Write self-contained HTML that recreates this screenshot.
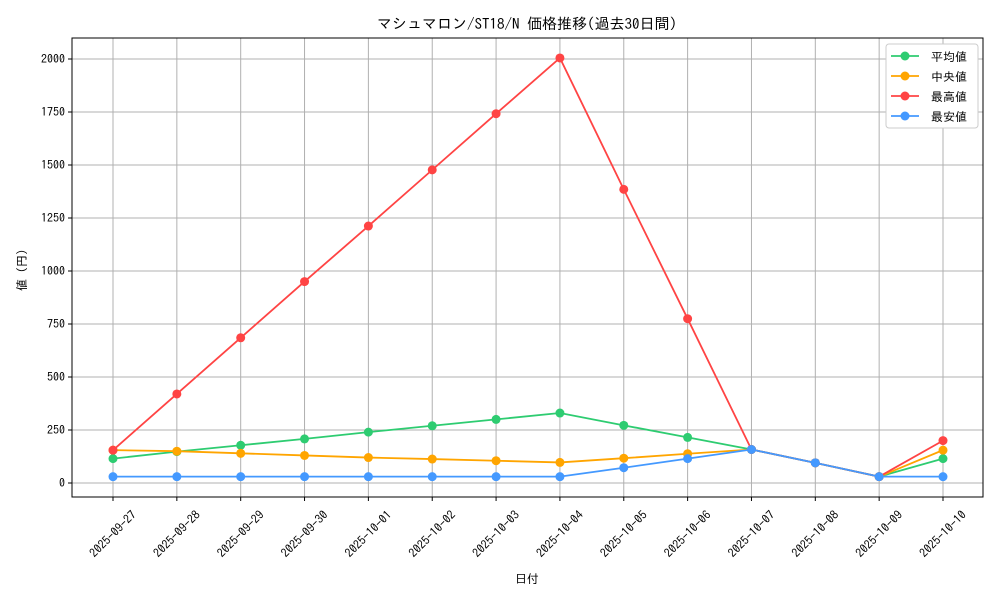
<!DOCTYPE html>
<html><head><meta charset="utf-8"><style>
body{margin:0;background:#fff;}
text{font-family:"IPAGothic","Noto Sans CJK JP",monospace;fill:#000;}
</style></head><body>
<svg id="chart" width="1000" height="600" xmlns="http://www.w3.org/2000/svg"></svg>
<script>
const categories=["2025-09-27","2025-09-28","2025-09-29","2025-09-30","2025-10-01","2025-10-02","2025-10-03","2025-10-04","2025-10-05","2025-10-06","2025-10-07","2025-10-08","2025-10-09","2025-10-10"];
const avgValues=[115,148,178,208,240,270,300,330,272,215,158,95,30,115];
const medianValues=[155,150,140,130,120,113,105,97,117,138,158,95,30,155];
const maxValues=[155,420,685,950,1212,1477,1742,2005,1385,775,158,95,30,200];
const minValues=[30,30,30,30,30,30,30,30,72,115,158,95,30,30];
const yTicks=[0,250,500,750,1000,1250,1500,1750,2000];
const seriesNames=["平均値","中央値","最高値","最安値"];
const seriesColors=["#2ecc71","#ffa500","#ff4444","#4499ff"];
const seriesData=[avgValues,medianValues,maxValues,minValues];

const svg=document.getElementById('chart');
const NS="http://www.w3.org/2000/svg";
const L=72,R=983,T=38,B=497;
const x0=113,x1=943;
function xs(i){return x0+(x1-x0)*i/(categories.length-1);}
function ys(v){return 483-(483-59)*v/2000;}
function mk(tag,attrs,parent){const e=document.createElementNS(NS,tag);for(const k in attrs)e.setAttribute(k,attrs[k]);(parent||svg).appendChild(e);return e;}

const grid=mk('g',{});


categories.forEach((c,i)=>{
  const l=mk('line',{x1:xs(i),x2:xs(i),y1:T,y2:B,stroke:'#b0b0b0','stroke-width':1},grid);
  
  
  const tk=mk('line',{x1:xs(i),x2:xs(i),y1:B,y2:B+4,stroke:'#000'});
  
  
  const cx=xs(i), cy=534;
  const t=mk('text',{x:cx,y:cy+4,'font-size':12,'text-anchor':'middle',transform:`rotate(-45 ${cx} ${cy})`});
  t.textContent=c;
  
  
});
yTicks.forEach(v=>{
  const l=mk('line',{x1:L,x2:R,y1:ys(v),y2:ys(v),stroke:'#b0b0b0','stroke-width':1},grid);
  
  
  const tk=mk('line',{x1:L-4,x2:L,y1:ys(v),y2:ys(v),stroke:'#000'});
  
  
  const t=mk('text',{x:L-7,y:ys(v)+4,'font-size':12,'text-anchor':'end'});
  t.textContent=v;
  
  
});
const frame=mk('rect',{x:L,y:T,width:R-L,height:B-T,fill:'none',stroke:'#000','stroke-width':1});



seriesData.forEach((d,s)=>{
  const g=mk('g',{});
  
  
  const p=mk('polyline',{points:d.map((v,i)=>xs(i)+','+ys(v)).join(' '),fill:'none',stroke:seriesColors[s],'stroke-width':1.8},g);
  
  
  d.forEach((v,i)=>{
    const c=mk('circle',{cx:xs(i),cy:ys(v),r:4.5,fill:seriesColors[s]},g);
    
    
  });
});

const title=mk('text',{x:527,y:29,'font-size':15,'text-anchor':'middle'});
title.textContent="マシュマロン/ST18/N 価格推移(過去30日間)";


const xt=mk('text',{x:527,y:583,'font-size':12,'text-anchor':'middle'});
xt.textContent="日付";


const yt=mk('text',{x:26,y:270,'font-size':12,'text-anchor':'middle',transform:'rotate(-90 26 270)'});
yt.textContent="値 (円)";



const lg=mk('g',{});


mk('rect',{x:886,y:44,width:92,height:84,fill:'#fff',stroke:'#ccc',rx:3},lg);
seriesNames.forEach((n,s)=>{
  const y=56+s*20;
  const e=mk('g',{},lg);
  
  
  mk('line',{x1:891,x2:919,y1:y,y2:y,stroke:seriesColors[s],'stroke-width':1.8},e);
  mk('circle',{cx:905,cy:y,r:4.5,fill:seriesColors[s]},e);
  const t=mk('text',{x:931,y:y+5,'font-size':12},e);
  t.textContent=n;
});
</script>
</body></html>
